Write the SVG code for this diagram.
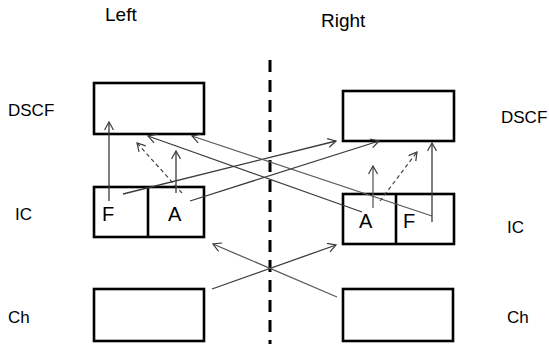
<svg xmlns="http://www.w3.org/2000/svg" width="549" height="344" viewBox="0 0 549 344">
<style>
.box{fill:#fff;stroke:#000;stroke-width:2.6}
.div{stroke:#000;stroke-width:2.6}
.lbl{font-family:"Liberation Sans",Arial,sans-serif;font-size:17px;fill:#000}
.t{font-size:19px}
.in{font-size:20px}
.c{fill:none;stroke:#3a3a3a;stroke-width:1.3}
.cg{fill:none;stroke:#5a5a5a;stroke-width:1.3}
.d{fill:none;stroke:#444;stroke-width:1.2;stroke-dasharray:4 3}
</style>
<defs>
<marker id="ah" markerUnits="userSpaceOnUse" markerWidth="12" markerHeight="12" refX="9" refY="5" orient="auto">
<path d="M1,0.5 L9,5 L1,9.5" fill="none" stroke="#3a3a3a" stroke-width="1.2"/>
</marker>
</defs>
<rect width="549" height="344" fill="#fff"/>
<text class="lbl t" x="105" y="21">Left</text>
<text class="lbl t" x="321" y="27">Right</text>
<text class="lbl" x="8" y="116">DSCF</text>
<text class="lbl" x="15" y="220">IC</text>
<text class="lbl" x="8" y="323">Ch</text>
<text class="lbl" x="501" y="123">DSCF</text>
<text class="lbl" x="507" y="233">IC</text>
<text class="lbl" x="507" y="323">Ch</text>
<line x1="270" y1="60" x2="270" y2="344" stroke="#000" stroke-width="3" stroke-dasharray="12 8"/>
<g id="left-dscf"><rect class="box" x="94" y="83" width="110" height="51"/></g>
<g id="left-ic"><rect class="box" x="94" y="187" width="110" height="50"/><line class="div" x1="148" y1="187" x2="148" y2="237"/><text class="lbl in" x="102" y="221">F</text><text class="lbl in" x="168" y="221">A</text></g>
<g id="left-ch"><rect class="box" x="94" y="289" width="110" height="52"/></g>
<g id="right-dscf"><rect class="box" x="343" y="91" width="111" height="50"/></g>
<g id="right-ic"><rect class="box" x="343" y="194" width="111" height="50"/><line class="div" x1="396" y1="194" x2="396" y2="244"/><text class="lbl in" x="359" y="228">A</text><text class="lbl in" x="403" y="228">F</text></g>
<g id="right-ch"><rect class="box" x="343" y="289" width="110" height="52"/></g>
<g id="connectors">
<line class="c" x1="109" y1="201" x2="109" y2="122" marker-end="url(#ah)"/>
<line class="c" x1="176" y1="193" x2="176" y2="151" marker-end="url(#ah)"/>
<line class="d" x1="182" y1="193" x2="137" y2="143" marker-end="url(#ah)"/>
<line class="c" x1="123" y1="194" x2="336" y2="141" marker-end="url(#ah)"/>
<line class="c" x1="190" y1="201" x2="379" y2="141" marker-end="url(#ah)"/>
<line class="c" x1="362" y1="212" x2="148" y2="136" marker-end="url(#ah)"/>
<line class="cg" x1="432" y1="216" x2="192" y2="136" marker-end="url(#ah)"/>
<line class="cg" x1="373" y1="208" x2="373" y2="166" marker-end="url(#ah)"/>
<line class="d" x1="380" y1="201" x2="417" y2="152" marker-end="url(#ah)"/>
<line class="c" x1="432" y1="222" x2="432" y2="143" marker-end="url(#ah)"/>
<line class="c" x1="212" y1="289" x2="336" y2="245" marker-end="url(#ah)"/>
<line class="cg" x1="337" y1="297" x2="213" y2="244" marker-end="url(#ah)"/>
</g>
</svg>
